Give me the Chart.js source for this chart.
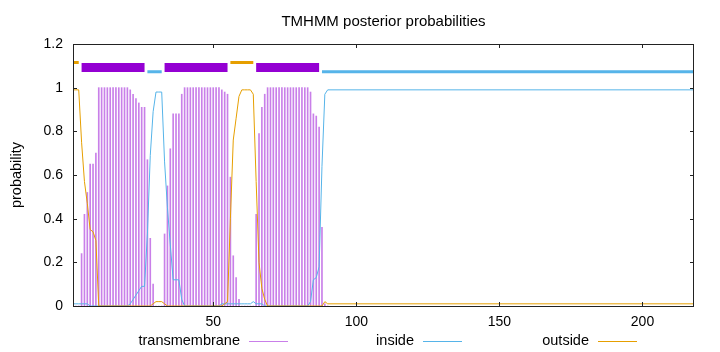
<!DOCTYPE html>
<html>
<head>
<meta charset="utf-8">
<script src="https://cdn.jsdelivr.net/npm/chart.js@4.4.1/dist/chart.umd.min.js"></script>
<style>
  html, body { margin: 0; padding: 0; background: #fff; }
  #wrap { width: 720px; height: 352px; }
</style>
</head>
<body>
<div id="wrap"><canvas id="tmhmmChart" width="720" height="352"></canvas></div>
<script>
// residue positions (the tail after 90 is flat, so only its end point is listed)
const residues = [
  1, 2, 3, 4, 5, 6, 7, 8, 9, 10,
  11, 12, 13, 14, 15, 16, 17, 18, 19, 20,
  21, 22, 23, 24, 25, 26, 27, 28, 29, 30,
  31, 32, 33, 34, 35, 36, 37, 38, 39, 40,
  41, 42, 43, 44, 45, 46, 47, 48, 49, 50,
  51, 52, 53, 54, 55, 56, 57, 58, 59, 60,
  61, 62, 63, 64, 65, 66, 67, 68, 69, 70,
  71, 72, 73, 74, 75, 76, 77, 78, 79, 80,
  81, 82, 83, 84, 85, 86, 87, 88, 89, 90,
  218
];
const transmembrane = [
  0, 0, 0, 0.24, 0.42, 0.52, 0.65, 0.65, 0.70, 1,
  1, 1, 1, 1, 1, 1, 1, 1, 1, 1,
  0.99, 0.97, 0.95, 0.93, 0.91, 0.91, 0.67, 0.31, 0.10, 0,
  0, 0, 0.33, 0.55, 0.72, 0.88, 0.88, 0.88, 0.97, 1,
  1, 1, 1, 1, 1, 1, 1, 1, 1, 1,
  1, 1, 0.99, 0.98, 0.97, 0.59, 0.23, 0.13, 0.03, 0,
  0, 0, 0, 0, 0.42, 0.79, 0.91, 0.97, 1, 1,
  1, 1, 1, 1, 1, 1, 1, 1, 1, 1,
  1, 1, 1, 0.98, 0.88, 0.87, 0.82, 0.36, 0.01, 0,
  0
];
const inside = [
  0.01, 0.01, 0.01, 0.01, 0.01, 0.01, 0, 0, 0, 0,
  0, 0, 0, 0, 0, 0, 0, 0, 0, 0,
  0.01, 0.03, 0.05, 0.07, 0.09, 0.09, 0.33, 0.69, 0.89, 0.98,
  0.98, 0.98, 0.66, 0.45, 0.28, 0.12, 0.12, 0.12, 0.03, 0,
  0, 0, 0, 0, 0, 0, 0, 0, 0, 0,
  0, 0, 0.01, 0.01, 0.01, 0.01, 0.01, 0.01, 0.01, 0.01,
  0.01, 0.01, 0.01, 0.02, 0.01, 0.01, 0.01, 0, 0, 0,
  0, 0, 0, 0, 0, 0, 0, 0, 0, 0,
  0, 0, 0, 0.02, 0.12, 0.13, 0.18, 0.64, 0.97, 0.99,
  0.99
];
const outside = [
  0.99, 0.99, 0.99, 0.75, 0.57, 0.47, 0.35, 0.34, 0.30, 0,
  0, 0, 0, 0, 0, 0, 0, 0, 0, 0,
  0, 0, 0, 0, 0, 0, 0, 0, 0.01, 0.02,
  0.02, 0.02, 0.01, 0, 0, 0, 0, 0, 0, 0,
  0, 0, 0, 0, 0, 0, 0, 0, 0, 0,
  0, 0, 0, 0.01, 0.02, 0.40, 0.76, 0.86, 0.96, 0.99,
  0.99, 0.99, 0.99, 0.97, 0.57, 0.20, 0.08, 0.03, 0, 0,
  0, 0, 0, 0, 0, 0, 0, 0, 0, 0,
  0, 0, 0, 0, 0, 0, 0, 0, 0.02, 0.01,
  0.01
];

// predicted topology (the bars along the top)
const topologyType = ["outside", "TMhelix", "inside", "TMhelix", "outside", "TMhelix", "inside"];
const topologyStart = [1, 4, 27, 33, 56, 65, 88];
const topologyEnd = [3, 26, 32, 55, 64, 87, 218];

const xTicks = [50, 100, 150, 200];
const yTicks = [0, 0.2, 0.4, 0.6, 0.8, 1, 1.2];
const seriesNames = ["transmembrane", "inside", "outside"];
const chartTitle = "TMHMM posterior probabilities";
const yTitle = "probability";

const TM_COLOR = "#9400d3";
const TM_IMPULSE = "rgba(148, 0, 211, 0.5)";
const IN_COLOR = "#56b4e9";
const OUT_COLOR = "#e69f00";
const FONT = "Liberation Sans, Arial, sans-serif";

function points(values) {
  return residues.map((x, i) => ({ x: x, y: values[i] }));
}

// one dataset per region type, segments separated by null gaps
function topologyLine(type, y) {
  const data = [];
  topologyType.forEach(function (t, i) {
    if (t !== type) return;
    if (data.length) data.push({ x: topologyStart[i] - 0.5, y: null });
    data.push({ x: topologyStart[i], y: y });
    data.push({ x: topologyEnd[i], y: y });
  });
  return data;
}

const framePlugin = {
  id: "gnuplotFrame",
  afterDraw(chart) {
    const ctx = chart.ctx;
    const a = chart.chartArea;
    const xs = chart.scales.x;
    const ys = chart.scales.y;
    ctx.save();
    ctx.strokeStyle = "#222";
    ctx.lineWidth = 1;
    ctx.strokeRect(a.left + 0.5, a.top + 0.5, a.right - a.left - 1, a.bottom - a.top);

    // inward tick marks, mirrored
    ctx.beginPath();
    xTicks.forEach(function (v) {
      const px = Math.round(xs.getPixelForValue(v)) + 0.5;
      ctx.moveTo(px, a.bottom); ctx.lineTo(px, a.bottom - 4);
      ctx.moveTo(px, a.top); ctx.lineTo(px, a.top + 4);
    });
    yTicks.forEach(function (v) {
      const py = Math.round(ys.getPixelForValue(v)) + 0.5;
      ctx.moveTo(a.left, py); ctx.lineTo(a.left + 4, py);
      ctx.moveTo(a.right, py); ctx.lineTo(a.right - 4, py);
    });
    ctx.stroke();

    ctx.fillStyle = "#000";
    ctx.font = "15px " + FONT;
    ctx.textAlign = "center";
    ctx.textBaseline = "middle";
    ctx.fillText(chartTitle, (a.left + a.right) / 2, 22);

    ctx.font = "14.5px " + FONT;
    ctx.save();
    ctx.translate(17, 175);
    ctx.rotate(-Math.PI / 2);
    ctx.fillText(yTitle, 0, 0);
    ctx.restore();

    // gnuplot style key: text then line sample
    const keyRight = [240, 414, 589];
    const keyColor = [TM_IMPULSE, IN_COLOR, OUT_COLOR];
    ctx.textAlign = "right";
    seriesNames.forEach(function (name, i) {
      ctx.fillStyle = "#000";
      ctx.fillText(name, keyRight[i], 341);
      ctx.strokeStyle = keyColor[i];
      ctx.beginPath();
      ctx.moveTo(keyRight[i] + 9, 341.5);
      ctx.lineTo(keyRight[i] + 48, 341.5);
      ctx.stroke();
    });
    ctx.restore();
  },
};

const config = {
  type: "line",
  data: {
    datasets: [
      {
        label: "outside",
        data: points(outside),
        borderColor: OUT_COLOR,
        borderWidth: 1,
        pointRadius: 0,
        tension: 0,
      },
      {
        label: "inside",
        data: points(inside),
        borderColor: IN_COLOR,
        borderWidth: 1,
        pointRadius: 0,
        tension: 0,
      },
      {
        label: "topo outside",
        data: topologyLine("outside", 1.115),
        borderColor: OUT_COLOR,
        borderWidth: 3,
        borderCapStyle: "butt",
        pointRadius: 0,
        spanGaps: false,
      },
      {
        label: "topo inside",
        data: topologyLine("inside", 1.073),
        borderColor: IN_COLOR,
        borderWidth: 3,
        borderCapStyle: "butt",
        pointRadius: 0,
        spanGaps: false,
      },
      {
        label: "topo TM",
        data: topologyLine("TMhelix", 1.092),
        borderColor: TM_COLOR,
        borderWidth: 9,
        borderCapStyle: "butt",
        pointRadius: 0,
        spanGaps: false,
      },
      {
        type: "bar",
        label: "transmembrane",
        data: points(transmembrane),
        backgroundColor: TM_IMPULSE,
        borderWidth: 0,
        barThickness: 1,
      },
    ],
  },
  options: {
    responsive: false,
    animation: false,
    devicePixelRatio: 1,
    layout: { padding: { top: 44, right: 26, left: 0, bottom: 0 } },
    plugins: {
      legend: { display: false },
      tooltip: { enabled: false },
    },
    scales: {
      x: {
        type: "linear",
        min: 1,
        max: 218,
        offset: false,
        grid: { display: false, drawTicks: false },
        border: { display: false },
        afterBuildTicks: function (s) {
          s.ticks = xTicks.map((v) => ({ value: v }));
        },
        afterFit: function (s) {
          s.height = 46;
        },
        ticks: { padding: 8, color: "#000", maxRotation: 0, font: { family: FONT, size: 14 } },
      },
      y: {
        min: 0,
        max: 1.2,
        grid: { display: false, drawTicks: false },
        border: { display: false },
        afterBuildTicks: function (s) {
          s.ticks = yTicks.map((v) => ({ value: v }));
        },
        afterFit: function (s) {
          s.width = 73;
        },
        ticks: {
          padding: 10,
          color: "#000",
          font: { family: FONT, size: 14 },
          callback: (v) => String(Math.round(v * 10) / 10),
        },
      },
    },
  },
  plugins: [framePlugin],
};

const myChart = new Chart(document.getElementById("tmhmmChart"), config);
</script>
</body>
</html>
